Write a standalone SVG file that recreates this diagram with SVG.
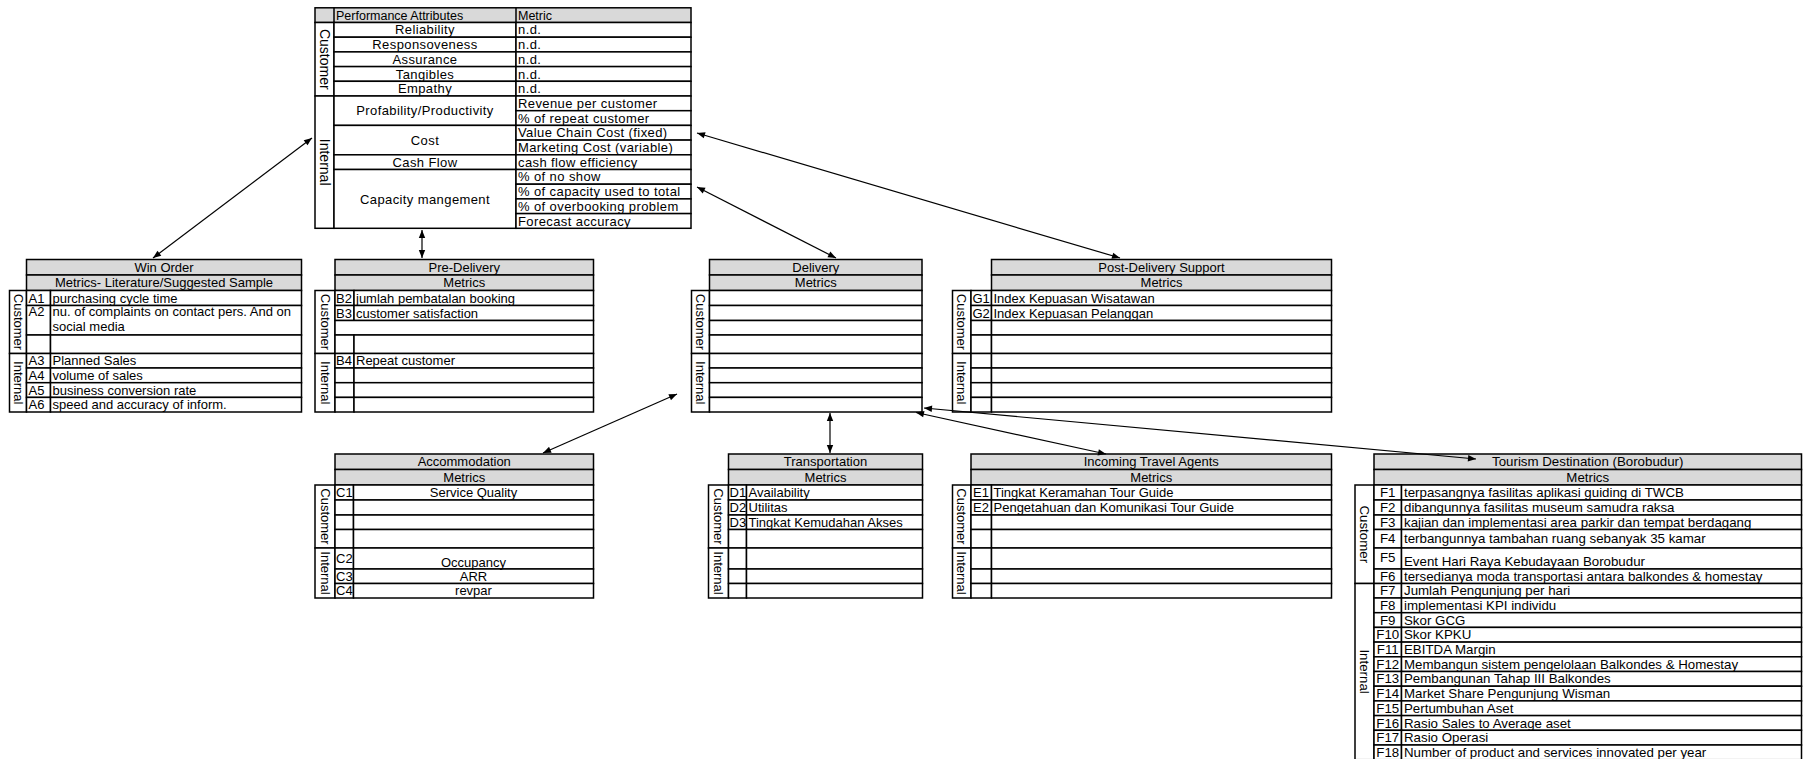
<svg xmlns="http://www.w3.org/2000/svg" width="1803" height="759" viewBox="0 0 1803 759">
<style>
rect{fill:#fff;stroke:#000;stroke-width:1.5}
rect.h{fill:#d9d9d9}
text{font-family:"Liberation Sans",Arial,sans-serif;font-size:13px;fill:#000}
#performance-attributes text{font-size:13px;letter-spacing:0.4px}
#performance-attributes text.hd{font-size:12.5px;letter-spacing:0}
#performance-attributes text.v{font-size:14px;letter-spacing:0}
#tourism-destination text{font-size:13.3px}
.m{text-anchor:middle}
.cn line{stroke:#000;stroke-width:1.2}
</style>
<defs>
<marker id="ah" viewBox="0 0 10 10" refX="10" refY="5" markerWidth="9" markerHeight="8" markerUnits="userSpaceOnUse" orient="auto-start-reverse"><path d="M0,1 L10,5 L0,9 z" fill="#000"/></marker>
</defs>
<rect x="0" y="0" width="1803" height="759" style="stroke:none"/>

<g id="performance-attributes">
<rect class="h" x="315" y="7.8" width="376" height="14.7"/>
<line x1="334" y1="7.8" x2="334" y2="22.5" stroke="#000" stroke-width="1.5"/>
<line x1="516" y1="7.8" x2="516" y2="22.5" stroke="#000" stroke-width="1.5"/>
<text class="hd" x="336" y="19.8">Performance Attributes</text>
<text class="hd" x="518" y="19.8">Metric</text>
<rect x="315" y="22.5" width="19" height="73.5"/>
<rect x="315" y="96" width="19" height="132.3"/>
<text class="m v" transform="translate(319.5,59.25) rotate(90)">Customer</text>
<text class="m v" transform="translate(319.5,162.15) rotate(90)">Internal</text>
<rect x="334" y="22.5" width="182" height="14.7"/><rect x="516" y="22.5" width="175" height="14.7"/>
<rect x="334" y="37.2" width="182" height="14.7"/><rect x="516" y="37.2" width="175" height="14.7"/>
<rect x="334" y="51.9" width="182" height="14.7"/><rect x="516" y="51.9" width="175" height="14.7"/>
<rect x="334" y="66.6" width="182" height="14.7"/><rect x="516" y="66.6" width="175" height="14.7"/>
<rect x="334" y="81.3" width="182" height="14.7"/><rect x="516" y="81.3" width="175" height="14.7"/>
<text class="m" x="425" y="34.4">Reliability</text><text x="518" y="34.4">n.d.</text>
<text class="m" x="425" y="49.1">Responsoveness</text><text x="518" y="49.1">n.d.</text>
<text class="m" x="425" y="63.8">Assurance</text><text x="518" y="63.8">n.d.</text>
<text class="m" x="425" y="78.5">Tangibles</text><text x="518" y="78.5">n.d.</text>
<text class="m" x="425" y="93.2">Empathy</text><text x="518" y="93.2">n.d.</text>
<rect x="334" y="96" width="182" height="29.4"/>
<rect x="334" y="125.4" width="182" height="29.4"/>
<rect x="334" y="154.8" width="182" height="14.7"/>
<rect x="334" y="169.5" width="182" height="58.8"/>
<text class="m" x="425" y="115.3">Profability/Productivity</text>
<text class="m" x="425" y="144.7">Cost</text>
<text class="m" x="425" y="166.7">Cash Flow</text>
<text class="m" x="425" y="203.5">Capacity mangement</text>
<rect x="516" y="96" width="175" height="14.7"/>
<rect x="516" y="110.7" width="175" height="14.7"/>
<rect x="516" y="125.4" width="175" height="14.7"/>
<rect x="516" y="140.1" width="175" height="14.7"/>
<rect x="516" y="154.8" width="175" height="14.7"/>
<rect x="516" y="169.5" width="175" height="14.7"/>
<rect x="516" y="184.2" width="175" height="14.7"/>
<rect x="516" y="198.9" width="175" height="14.7"/>
<rect x="516" y="213.6" width="175" height="14.7"/>
<text x="518" y="107.9">Revenue per customer</text>
<text x="518" y="122.6">% of repeat customer</text>
<text x="518" y="137.3">Value Chain Cost (fixed)</text>
<text x="518" y="152">Marketing Cost (variable)</text>
<text x="518" y="166.7">cash flow efficiency</text>
<text x="518" y="181.4">% of no show</text>
<text x="518" y="196.1">% of capacity used to total</text>
<text x="518" y="210.8">% of overbooking problem</text>
<text x="518" y="225.5">Forecast accuracy</text>
</g>

<g id="win-order">
<rect class="h" x="26.5" y="259.5" width="275" height="15.5"/>
<rect class="h" x="26.5" y="275" width="275" height="15.5"/>
<text class="m" x="164" y="271.7">Win Order</text>
<text class="m" x="164" y="287.2">Metrics- Literature/Suggested Sample</text>
<rect x="9.5" y="290.5" width="17" height="63"/>
<rect x="9.5" y="353.5" width="17" height="58.5"/>
<text class="m" transform="translate(13.5,322) rotate(90)">Customer</text>
<text class="m" transform="translate(13.5,382.75) rotate(90)">Internal</text>
<rect x="26.5" y="290.5" width="24" height="15"/><rect x="50.5" y="290.5" width="251" height="15"/>
<rect x="26.5" y="305.5" width="24" height="29.5"/><rect x="50.5" y="305.5" width="251" height="29.5"/>
<rect x="26.5" y="335" width="24" height="18.5"/><rect x="50.5" y="335" width="251" height="18.5"/>
<rect x="26.5" y="353.5" width="24" height="14.5"/><rect x="50.5" y="353.5" width="251" height="14.5"/>
<rect x="26.5" y="368" width="24" height="14.7"/><rect x="50.5" y="368" width="251" height="14.7"/>
<rect x="26.5" y="382.7" width="24" height="14.7"/><rect x="50.5" y="382.7" width="251" height="14.7"/>
<rect x="26.5" y="397.4" width="24" height="14.6"/><rect x="50.5" y="397.4" width="251" height="14.6"/>
<text x="28.5" y="302.5">A1</text><text x="52.5" y="302.5">purchasing cycle time</text>
<text x="28.5" y="316">A2</text><text x="52.5" y="315.5">nu. of complaints on contact pers. And on</text>
<text x="52.5" y="330.5">social media</text>
<text x="28.5" y="365.2">A3</text><text x="52.5" y="365.2">Planned Sales</text>
<text x="28.5" y="379.9">A4</text><text x="52.5" y="379.9">volume of sales</text>
<text x="28.5" y="394.6">A5</text><text x="52.5" y="394.6">business conversion rate</text>
<text x="28.5" y="409.2">A6</text><text x="52.5" y="409.2">speed and accuracy of inform.</text>
</g>

<g id="pre-delivery">
<rect class="h" x="335" y="259.5" width="258.5" height="15.5"/>
<rect class="h" x="335" y="275" width="258.5" height="15.5"/>
<text class="m" x="464.25" y="271.7">Pre-Delivery</text>
<text class="m" x="464.25" y="287.2">Metrics</text>
<rect x="315" y="290.5" width="20" height="63"/>
<rect x="315" y="353.5" width="20" height="58.5"/>
<text class="m" transform="translate(320.5,322) rotate(90)">Customer</text>
<text class="m" transform="translate(320.5,382.75) rotate(90)">Internal</text>
<rect x="335" y="290.5" width="19" height="15"/><rect x="354" y="290.5" width="239.5" height="15"/>
<rect x="335" y="305.5" width="19" height="15"/><rect x="354" y="305.5" width="239.5" height="15"/>
<rect x="335" y="320.5" width="258.5" height="14.5"/>
<rect x="335" y="335" width="19" height="18.5"/><rect x="354" y="335" width="239.5" height="18.5"/>
<rect x="335" y="353.5" width="19" height="14.5"/><rect x="354" y="353.5" width="239.5" height="14.5"/>
<rect x="335" y="368" width="19" height="14.7"/><rect x="354" y="368" width="239.5" height="14.7"/>
<rect x="335" y="382.7" width="19" height="14.7"/><rect x="354" y="382.7" width="239.5" height="14.7"/>
<rect x="335" y="397.4" width="19" height="14.6"/><rect x="354" y="397.4" width="239.5" height="14.6"/>
<text x="336" y="302.5">B2</text><text x="356" y="302.5">jumlah pembatalan booking</text>
<text x="336" y="317.5">B3</text><text x="356" y="317.5">customer satisfaction</text>
<text x="336" y="365.2">B4</text><text x="356" y="365.2">Repeat customer</text>
</g>

<g id="delivery">
<rect class="h" x="709.5" y="259.5" width="212.5" height="15.5"/>
<rect class="h" x="709.5" y="275" width="212.5" height="15.5"/>
<text class="m" x="815.75" y="271.7">Delivery</text>
<text class="m" x="815.75" y="287.2">Metrics</text>
<rect x="691.5" y="290.5" width="18" height="63"/>
<rect x="691.5" y="353.5" width="18" height="58.5"/>
<text class="m" transform="translate(696,322) rotate(90)">Customer</text>
<text class="m" transform="translate(696,382.75) rotate(90)">Internal</text>
<rect x="709.5" y="290.5" width="212.5" height="15"/>
<rect x="709.5" y="305.5" width="212.5" height="15"/>
<rect x="709.5" y="320.5" width="212.5" height="14.5"/>
<rect x="709.5" y="335" width="212.5" height="18.5"/>
<rect x="709.5" y="353.5" width="212.5" height="14.5"/>
<rect x="709.5" y="368" width="212.5" height="14.7"/>
<rect x="709.5" y="382.7" width="212.5" height="14.7"/>
<rect x="709.5" y="397.4" width="212.5" height="14.6"/>
</g>

<g id="post-delivery-support">
<rect class="h" x="991.5" y="259.5" width="340" height="15.5"/>
<rect class="h" x="991.5" y="275" width="340" height="15.5"/>
<text class="m" x="1161.5" y="271.7">Post-Delivery Support</text>
<text class="m" x="1161.5" y="287.2">Metrics</text>
<rect x="952.5" y="290.5" width="18.5" height="63"/>
<rect x="952.5" y="353.5" width="18.5" height="58.5"/>
<text class="m" transform="translate(957.2,322) rotate(90)">Customer</text>
<text class="m" transform="translate(957.2,382.75) rotate(90)">Internal</text>
<rect x="971" y="290.5" width="20.5" height="15"/><rect x="991.5" y="290.5" width="340" height="15"/>
<rect x="971" y="305.5" width="20.5" height="15"/><rect x="991.5" y="305.5" width="340" height="15"/>
<rect x="971" y="320.5" width="20.5" height="14.5"/><rect x="991.5" y="320.5" width="340" height="14.5"/>
<rect x="971" y="335" width="20.5" height="18.5"/><rect x="991.5" y="335" width="340" height="18.5"/>
<rect x="971" y="353.5" width="20.5" height="14.5"/><rect x="991.5" y="353.5" width="340" height="14.5"/>
<rect x="971" y="368" width="20.5" height="14.7"/><rect x="991.5" y="368" width="340" height="14.7"/>
<rect x="971" y="382.7" width="20.5" height="14.7"/><rect x="991.5" y="382.7" width="340" height="14.7"/>
<rect x="971" y="397.4" width="20.5" height="14.6"/><rect x="991.5" y="397.4" width="340" height="14.6"/>
<text x="972.5" y="302.5">G1</text><text x="993.5" y="302.5">Index Kepuasan Wisatawan</text>
<text x="972.5" y="317.5">G2</text><text x="993.5" y="317.5">Index Kepuasan Pelanggan</text>
</g>

<g id="accommodation">
<rect class="h" x="335" y="454" width="258.5" height="15.5"/>
<rect class="h" x="335" y="469.5" width="258.5" height="15.5"/>
<text class="m" x="464.25" y="466.2">Accommodation</text>
<text class="m" x="464.25" y="481.7">Metrics</text>
<rect x="315" y="485" width="20" height="63"/>
<rect x="315" y="548" width="20" height="50"/>
<text class="m" transform="translate(320.5,516.5) rotate(90)">Customer</text>
<text class="m" transform="translate(320.5,573) rotate(90)">Internal</text>
<rect x="335" y="485" width="18.5" height="15"/><rect x="353.5" y="485" width="240" height="15"/>
<rect x="335" y="500" width="18.5" height="15"/><rect x="353.5" y="500" width="240" height="15"/>
<rect x="335" y="515" width="18.5" height="14.5"/><rect x="353.5" y="515" width="240" height="14.5"/>
<rect x="335" y="529.5" width="18.5" height="18.5"/><rect x="353.5" y="529.5" width="240" height="18.5"/>
<rect x="335" y="548" width="18.5" height="21"/><rect x="353.5" y="548" width="240" height="21"/>
<rect x="335" y="569" width="18.5" height="14.5"/><rect x="353.5" y="569" width="240" height="14.5"/>
<rect x="335" y="583.5" width="18.5" height="14.5"/><rect x="353.5" y="583.5" width="240" height="14.5"/>
<text x="336" y="497">C1</text><text class="m" x="473.5" y="497">Service Quality</text>
<text x="336" y="563">C2</text><text class="m" x="473.5" y="566.5">Occupancy</text>
<text x="336" y="580.7">C3</text><text class="m" x="473.5" y="580.7">ARR</text>
<text x="336" y="595.2">C4</text><text class="m" x="473.5" y="595.2">revpar</text>
</g>

<g id="transportation">
<rect class="h" x="728.5" y="454" width="194" height="15.5"/>
<rect class="h" x="728.5" y="469.5" width="194" height="15.5"/>
<text class="m" x="825.5" y="466.2">Transportation</text>
<text class="m" x="825.5" y="481.7">Metrics</text>
<rect x="708.5" y="485" width="20" height="63"/>
<rect x="708.5" y="548" width="20" height="50"/>
<text class="m" transform="translate(714,516.5) rotate(90)">Customer</text>
<text class="m" transform="translate(714,573) rotate(90)">Internal</text>
<rect x="728.5" y="485" width="18" height="15"/><rect x="746.5" y="485" width="176" height="15"/>
<rect x="728.5" y="500" width="18" height="15"/><rect x="746.5" y="500" width="176" height="15"/>
<rect x="728.5" y="515" width="18" height="14.5"/><rect x="746.5" y="515" width="176" height="14.5"/>
<rect x="728.5" y="529.5" width="18" height="18.5"/><rect x="746.5" y="529.5" width="176" height="18.5"/>
<rect x="728.5" y="548" width="18" height="21"/><rect x="746.5" y="548" width="176" height="21"/>
<rect x="728.5" y="569" width="18" height="14.5"/><rect x="746.5" y="569" width="176" height="14.5"/>
<rect x="728.5" y="583.5" width="18" height="14.5"/><rect x="746.5" y="583.5" width="176" height="14.5"/>
<text x="729.5" y="497">D1</text><text x="748.5" y="497">Availability</text>
<text x="729.5" y="512">D2</text><text x="748.5" y="512">Utilitas</text>
<text x="729.5" y="526.7">D3</text><text x="748.5" y="526.7">Tingkat Kemudahan Akses</text>
</g>

<g id="incoming-travel-agents">
<rect class="h" x="971" y="454" width="360.5" height="15.5"/>
<rect class="h" x="971" y="469.5" width="360.5" height="15.5"/>
<text class="m" x="1151.25" y="466.2">Incoming Travel Agents</text>
<text class="m" x="1151.25" y="481.7">Metrics</text>
<rect x="952.5" y="485" width="18.5" height="63"/>
<rect x="952.5" y="548" width="18.5" height="50"/>
<text class="m" transform="translate(957.2,516.5) rotate(90)">Customer</text>
<text class="m" transform="translate(957.2,573) rotate(90)">Internal</text>
<rect x="971" y="485" width="20.5" height="15"/><rect x="991.5" y="485" width="340" height="15"/>
<rect x="971" y="500" width="20.5" height="15"/><rect x="991.5" y="500" width="340" height="15"/>
<rect x="971" y="515" width="20.5" height="14.5"/><rect x="991.5" y="515" width="340" height="14.5"/>
<rect x="971" y="529.5" width="20.5" height="18.5"/><rect x="991.5" y="529.5" width="340" height="18.5"/>
<rect x="971" y="548" width="20.5" height="21"/><rect x="991.5" y="548" width="340" height="21"/>
<rect x="971" y="569" width="20.5" height="14.5"/><rect x="991.5" y="569" width="340" height="14.5"/>
<rect x="971" y="583.5" width="20.5" height="14.5"/><rect x="991.5" y="583.5" width="340" height="14.5"/>
<text x="973" y="497">E1</text><text x="993.5" y="497">Tingkat Keramahan Tour Guide</text>
<text x="973" y="512">E2</text><text x="993.5" y="512">Pengetahuan dan Komunikasi Tour Guide</text>
</g>

<g id="tourism-destination">
<rect class="h" x="1374" y="454" width="427.5" height="15.5"/>
<rect class="h" x="1374" y="469.5" width="427.5" height="15.5"/>
<text class="m" x="1587.75" y="466.2">Tourism Destination (Borobudur)</text>
<text class="m" x="1587.75" y="481.7">Metrics</text>
<rect x="1355" y="485" width="19" height="98.5"/>
<rect x="1355" y="583.5" width="19" height="176.2"/>
<text class="m" transform="translate(1360,534.25) rotate(90)">Customer</text>
<text class="m" transform="translate(1360,671.6) rotate(90)">Internal</text>
<rect x="1374" y="485" width="27.5" height="15"/><rect x="1401.5" y="485" width="400" height="15"/>
<rect x="1374" y="500" width="27.5" height="15"/><rect x="1401.5" y="500" width="400" height="15"/>
<rect x="1374" y="515" width="27.5" height="14.5"/><rect x="1401.5" y="515" width="400" height="14.5"/>
<rect x="1374" y="529.5" width="27.5" height="18.5"/><rect x="1401.5" y="529.5" width="400" height="18.5"/>
<rect x="1374" y="548" width="27.5" height="21"/><rect x="1401.5" y="548" width="400" height="21"/>
<rect x="1374" y="569" width="27.5" height="14.5"/><rect x="1401.5" y="569" width="400" height="14.5"/>
<rect x="1374" y="583.5" width="27.5" height="14.5"/><rect x="1401.5" y="583.5" width="400" height="14.5"/>
<rect x="1374" y="598" width="27.5" height="14.7"/><rect x="1401.5" y="598" width="400" height="14.7"/>
<rect x="1374" y="612.7" width="27.5" height="14.7"/><rect x="1401.5" y="612.7" width="400" height="14.7"/>
<rect x="1374" y="627.4" width="27.5" height="14.7"/><rect x="1401.5" y="627.4" width="400" height="14.7"/>
<rect x="1374" y="642.1" width="27.5" height="14.7"/><rect x="1401.5" y="642.1" width="400" height="14.7"/>
<rect x="1374" y="656.8" width="27.5" height="14.7"/><rect x="1401.5" y="656.8" width="400" height="14.7"/>
<rect x="1374" y="671.5" width="27.5" height="14.7"/><rect x="1401.5" y="671.5" width="400" height="14.7"/>
<rect x="1374" y="686.2" width="27.5" height="14.7"/><rect x="1401.5" y="686.2" width="400" height="14.7"/>
<rect x="1374" y="700.9" width="27.5" height="14.7"/><rect x="1401.5" y="700.9" width="400" height="14.7"/>
<rect x="1374" y="715.6" width="27.5" height="14.7"/><rect x="1401.5" y="715.6" width="400" height="14.7"/>
<rect x="1374" y="730.3" width="27.5" height="14.7"/><rect x="1401.5" y="730.3" width="400" height="14.7"/>
<rect x="1374" y="745" width="27.5" height="14.7"/><rect x="1401.5" y="745" width="400" height="14.7"/>
<text class="m" x="1387.75" y="497">F1</text><text x="1404" y="497">terpasangnya fasilitas aplikasi guiding di TWCB</text>
<text class="m" x="1387.75" y="512">F2</text><text x="1404" y="512">dibangunnya fasilitas museum samudra raksa</text>
<text class="m" x="1387.75" y="526.7">F3</text><text x="1404" y="526.7">kajian dan implementasi area parkir dan tempat berdagang</text>
<text class="m" x="1387.75" y="543.2">F4</text><text x="1404" y="543.2">terbangunnya tambahan ruang sebanyak 35 kamar</text>
<text class="m" x="1387.75" y="561.5">F5</text><text x="1404" y="566">Event Hari Raya Kebudayaan Borobudur</text>
<text class="m" x="1387.75" y="580.7">F6</text><text x="1404" y="580.7">tersedianya moda transportasi antara balkondes &amp; homestay</text>
<text class="m" x="1387.75" y="595.2">F7</text><text x="1404" y="595.2">Jumlah Pengunjung per hari</text>
<text class="m" x="1387.75" y="609.9">F8</text><text x="1404" y="609.9">implementasi KPI individu</text>
<text class="m" x="1387.75" y="624.6">F9</text><text x="1404" y="624.6">Skor GCG</text>
<text class="m" x="1387.75" y="639.3">F10</text><text x="1404" y="639.3">Skor KPKU</text>
<text class="m" x="1387.75" y="654">F11</text><text x="1404" y="654">EBITDA Margin</text>
<text class="m" x="1387.75" y="668.7">F12</text><text x="1404" y="668.7">Membangun sistem pengelolaan Balkondes &amp; Homestay</text>
<text class="m" x="1387.75" y="683.4">F13</text><text x="1404" y="683.4">Pembangunan Tahap III Balkondes</text>
<text class="m" x="1387.75" y="698.1">F14</text><text x="1404" y="698.1">Market Share Pengunjung Wisman</text>
<text class="m" x="1387.75" y="712.8">F15</text><text x="1404" y="712.8">Pertumbuhan Aset</text>
<text class="m" x="1387.75" y="727.5">F16</text><text x="1404" y="727.5">Rasio Sales to Average aset</text>
<text class="m" x="1387.75" y="742.2">F17</text><text x="1404" y="742.2">Rasio Operasi</text>
<text class="m" x="1387.75" y="756.9">F18</text><text x="1404" y="756.9">Number of product and services innovated per year</text>
</g>

<g id="connectors" class="cn">
<line x1="153" y1="258" x2="312" y2="138" marker-start="url(#ah)" marker-end="url(#ah)"/>
<line x1="422" y1="258" x2="422" y2="230" marker-start="url(#ah)" marker-end="url(#ah)"/>
<line x1="697" y1="187" x2="836" y2="258" marker-start="url(#ah)" marker-end="url(#ah)"/>
<line x1="697" y1="133" x2="1120" y2="258" marker-start="url(#ah)" marker-end="url(#ah)"/>
<line x1="677" y1="394" x2="543" y2="453" marker-start="url(#ah)" marker-end="url(#ah)"/>
<line x1="830" y1="413" x2="830" y2="453" marker-start="url(#ah)" marker-end="url(#ah)"/>
<line x1="916" y1="412.5" x2="1106" y2="454" marker-start="url(#ah)" marker-end="url(#ah)"/>
<line x1="924" y1="408" x2="1476" y2="459" marker-start="url(#ah)" marker-end="url(#ah)"/>
</g>
</svg>
